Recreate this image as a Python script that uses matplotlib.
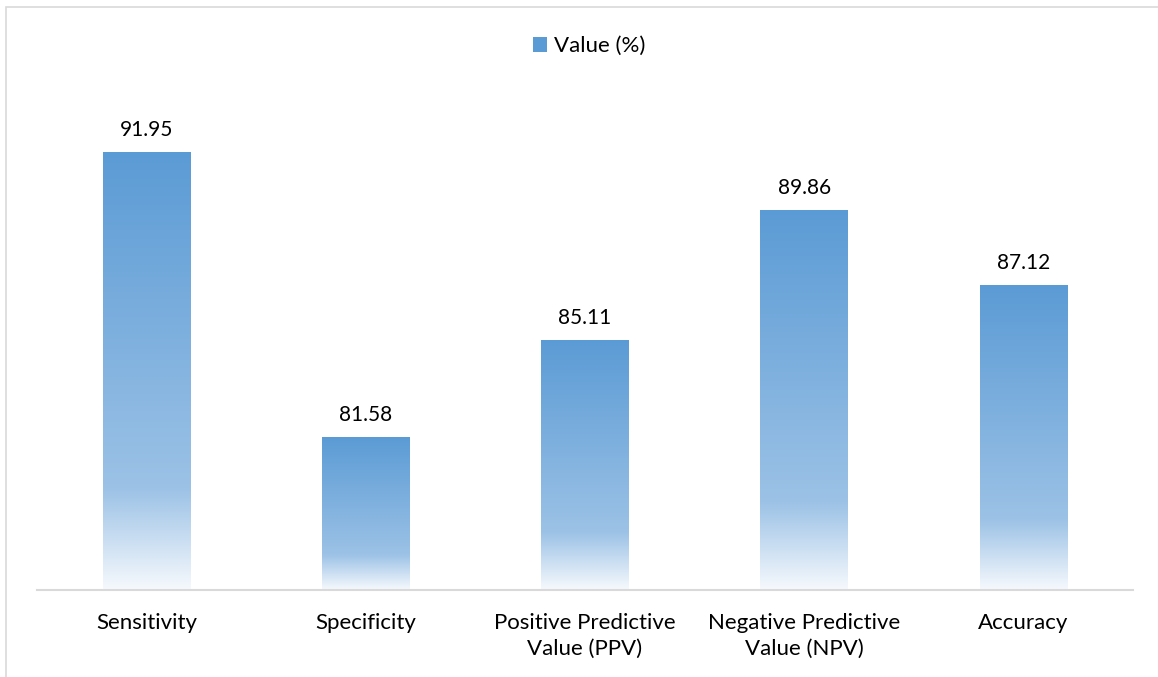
import numpy as np
import matplotlib.pyplot as plt
from matplotlib.patches import Rectangle
from matplotlib.colors import LinearSegmentedColormap

# data
categories = ["Sensitivity", "Specificity", "Positive Predictive\nValue (PPV)",
              "Negative Predictive\nValue (NPV)", "Accuracy"]
values = [91.95, 81.58, 85.11, 89.86, 87.12]
series_name = "Value (%)"

plt.rcParams['font.family'] = ['Lato', 'DejaVu Sans']

# excel-like gradient: solid blue at the top, fading to white at the base
grad = LinearSegmentedColormap.from_list(
    "bar_grad",
    [(0.0, "#5B9BD5"), (0.77, "#9CC2E6"), (1.0, "#F6F9FD")])

fig = plt.figure(figsize=(11.58, 6.77), dpi=100)
ax = fig.add_axes([37 / 1158, 1 - 590 / 677, 1096 / 1158, 548 / 677])

x = np.arange(len(categories))
bars = ax.bar(x, values, width=0.4, bottom=0, color="none", edgecolor="none")
ymin, ymax = 76, 96
ax.set_ylim(ymin, ymax)
ax.set_xlim(-0.5, len(categories) - 0.5)

ramp = np.linspace(0, 1, 256).reshape(-1, 1)
for b, v in zip(bars, values):
    x0 = b.get_x()
    x1 = x0 + b.get_width()
    ax.imshow(ramp, cmap=grad, extent=[x0, x1, ymin, v], aspect="auto",
              origin="upper", interpolation="bilinear", zorder=2)
    ax.annotate(f"{v:.2f}", (b.get_x() + b.get_width() / 2, v),
                xytext=(0, 9), textcoords="offset points",
                ha="center", va="bottom", fontsize=15, color="#000000")

ax.set_xticks(x)
ax.set_xticklabels(categories, fontsize=16, color="#000000", linespacing=1.4)
ax.tick_params(axis="x", length=0, pad=16.5)
ax.set_yticks([])
for side in ["top", "left", "right"]:
    ax.spines[side].set_visible(False)
ax.spines["bottom"].set_color("#D9D9D9")
ax.spines["bottom"].set_linewidth(1.5)
ax.spines["bottom"].set_zorder(3)

# legend
handle = Rectangle((0, 0), 1, 1, facecolor="#5B9BD5", edgecolor="none")
fig.legend([handle], [series_name], loc="center", bbox_to_anchor=(589 / 1158, 1 - 46 / 677),
           frameon=False, fontsize=16, handlelength=0.65, handleheight=0.65,
           handletextpad=0.3)

# outer chart border
fig.patches.append(Rectangle((6 / 1158, -0.05), 1.1, 1.05 - 7 / 677,
                             transform=fig.transFigure, fill=False,
                             edgecolor="#D9D9D9", linewidth=1.2))

fig.savefig("out.png", dpi=100)
